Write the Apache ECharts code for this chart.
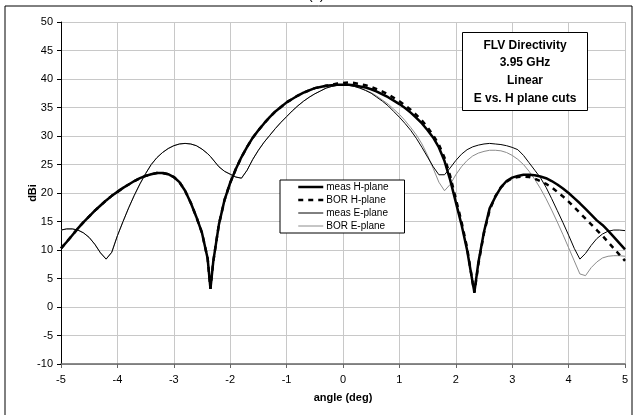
<!DOCTYPE html>
<html>
<head>
<meta charset="utf-8">
<script src="https://cdn.jsdelivr.net/npm/echarts@6/dist/echarts.min.js"></script>
<style>
  html, body { margin: 0; padding: 0; background: #fff; }
  #chart { width: 633px; height: 415px; }
</style>
</head>
<body>
<div id="chart"></div>
<script>
// angle samples (deg), with the two H-plane nulls added
const angles = [
  -5.0, -4.9, -4.8, -4.7, -4.6, -4.5, -4.4, -4.3, -4.2, -4.1,
  -4.0, -3.9, -3.8, -3.7, -3.6, -3.5, -3.4, -3.3, -3.2, -3.1,
  -3.0, -2.9, -2.8, -2.7, -2.6, -2.5, -2.4, -2.35, -2.3, -2.2, -2.1,
  -2.0, -1.9, -1.8, -1.7, -1.6, -1.5, -1.4, -1.3, -1.2, -1.1,
  -1.0, -0.9, -0.8, -0.7, -0.6, -0.5, -0.4, -0.3, -0.2, -0.1,
  0.0, 0.1, 0.2, 0.3, 0.4, 0.5, 0.6, 0.7, 0.8, 0.9,
  1.0, 1.1, 1.2, 1.3, 1.4, 1.5, 1.6, 1.7, 1.8, 1.9,
  2.0, 2.1, 2.2, 2.3, 2.33, 2.4, 2.5, 2.6, 2.7, 2.8, 2.9,
  3.0, 3.1, 3.2, 3.3, 3.4, 3.5, 3.6, 3.7, 3.8, 3.9,
  4.0, 4.1, 4.2, 4.3, 4.4, 4.5, 4.6, 4.7, 4.8, 4.9,
  5.0
];

const measH = [
  10.3, 11.4, 12.6, 13.8, 14.9, 15.9, 16.9, 17.8, 18.7, 19.5,
  20.2, 20.9, 21.5, 22.1, 22.6, 23.0, 23.3, 23.5, 23.5, 23.3,
  22.8, 21.9, 20.4, 18.3, 15.8, 13.0, 8.5, 3.2, 8.0, 14.5, 18.8,
  21.8, 24.2, 26.3, 28.1, 29.7, 31.0, 32.2, 33.3, 34.3, 35.1,
  35.9, 36.5, 37.1, 37.6, 38.0, 38.4, 38.6, 38.8, 38.9, 39.0,
  39.0, 39.0, 38.9, 38.7, 38.5, 38.2, 37.8, 37.3, 36.8, 36.2,
  35.6, 34.9, 34.1, 33.2, 32.2, 31.0, 29.7, 28.0, 25.6, 22.3,
  18.4, 14.5, 10.0, 4.2, 2.6, 7.8, 13.2, 17.3, 19.3, 21.0, 22.1,
  22.7, 23.0, 23.2, 23.2, 23.1, 22.9, 22.6, 22.1, 21.5, 20.8,
  20.0, 19.1, 18.2, 17.2, 16.2, 15.2, 14.4, 13.4, 12.3, 11.2,
  10.1
];

const borH = [
  10.3, 11.4, 12.6, 13.8, 14.9, 15.9, 16.9, 17.8, 18.7, 19.5,
  20.2, 20.9, 21.5, 22.1, 22.6, 23.0, 23.3, 23.5, 23.5, 23.3,
  22.8, 21.9, 20.4, 18.3, 15.8, 13.0, 8.5, 3.2, 8.0, 14.5, 18.8,
  21.8, 24.2, 26.3, 28.1, 29.7, 31.0, 32.2, 33.3, 34.3, 35.1,
  35.9, 36.5, 37.1, 37.6, 38.0, 38.4, 38.6, 38.8, 39.0, 39.2,
  39.3, 39.4, 39.3, 39.1, 38.9, 38.6, 38.2, 37.8, 37.3, 36.7,
  36.1, 35.4, 34.6, 33.7, 32.7, 31.5, 30.1, 28.5, 26.2, 23.0,
  19.0, 15.0, 10.4, 4.2, 2.5, 7.5, 13.0, 17.0, 19.4, 21.0, 22.0,
  22.6, 22.8, 22.9, 22.8, 22.5, 22.1, 21.6, 21.0, 20.2, 19.4,
  18.5, 17.5, 16.5, 15.5, 14.5, 13.5, 12.5, 11.4, 10.3, 9.2,
  8.1
];

const measE = [
  13.5, 13.7, 13.7, 13.5, 13.0, 12.2, 11.0, 9.5, 8.4, 9.6,
  12.5, 15.0, 17.4, 19.6, 21.6, 23.4, 25.0, 26.2, 27.1, 27.8,
  28.3, 28.6, 28.7, 28.6, 28.3, 27.7, 26.9, 26.4, 25.8, 24.6, 23.8,
  23.3, 22.8, 22.6, 24.0, 25.9, 27.5, 28.9, 30.1, 31.3, 32.4,
  33.4, 34.4, 35.3, 36.1, 36.8, 37.4, 37.9, 38.4, 38.7, 38.9,
  39.0, 38.9, 38.7, 38.4, 38.0, 37.5, 36.8, 36.1, 35.3, 34.3,
  33.3, 32.2, 31.0, 29.6, 28.0, 26.3, 24.6, 23.2, 23.2, 24.4,
  25.7, 26.8, 27.6, 28.1, 28.2, 28.4, 28.6, 28.7, 28.6, 28.5, 28.3,
  28.0, 27.6, 26.6, 25.3, 24.0, 22.7, 21.0, 19.0, 16.9, 14.8,
  12.6, 10.3, 8.4, 9.4, 10.8, 12.0, 12.8, 13.3, 13.5, 13.5,
  13.4
];

const borE = [
  13.5, 13.7, 13.7, 13.5, 13.0, 12.2, 11.0, 9.5, 8.4, 9.6,
  12.5, 15.0, 17.4, 19.6, 21.6, 23.4, 25.0, 26.2, 27.1, 27.8,
  28.3, 28.6, 28.7, 28.6, 28.3, 27.7, 26.9, 26.4, 25.8, 24.6, 23.8,
  23.3, 22.8, 22.6, 24.0, 25.9, 27.5, 28.9, 30.1, 31.3, 32.4,
  33.4, 34.4, 35.3, 36.1, 36.8, 37.4, 37.9, 38.4, 38.7, 38.9,
  39.0, 38.9, 38.7, 38.4, 38.0, 37.6, 37.0, 36.3, 35.6, 34.7,
  33.8, 32.7, 31.5, 30.2, 28.6, 26.6, 24.3, 21.9, 20.4, 21.5,
  23.2, 24.6, 25.7, 26.5, 26.7, 27.0, 27.3, 27.5, 27.5, 27.4, 27.1,
  26.6, 25.9, 25.0, 23.8, 22.4, 20.8, 19.0, 17.0, 14.9, 12.7,
  10.4, 8.1, 5.8, 5.5, 6.9, 7.9, 8.6, 8.9, 9.0, 9.0,
  8.9
];

const seriesNames = ["meas H-plane", "BOR H-plane", "meas E-plane", "BOR E-plane"];
const legendWidths = [2.5, 2.5, 1, 1];
const boxLines = ["FLV Directivity", "3.95 GHz", "Linear", "E vs. H plane cuts"];

const font = "Liberation Sans, Arial, sans-serif";
const pairs = (vals) => angles.map((a, i) => [a, vals[i]]);

const myChart = echarts.init(document.getElementById("chart"), null, { renderer: "canvas" });

const option = {
  animation: false,
  backgroundColor: "#fff",
  textStyle: { fontFamily: font },
  grid: { left: 61, right: 8, top: 22, bottom: 51 },
  xAxis: {
    type: "value",
    min: -5,
    max: 5,
    interval: 1,
    name: "angle (deg)",
    nameLocation: "middle",
    nameGap: 28,
    nameMoveOverlap: false,
    nameTextStyle: { fontFamily: font, fontSize: 11, fontWeight: "bold", color: "#000" },
    axisLine: { onZero: false, lineStyle: { color: "#666", width: 1.5 } },
    axisTick: { show: true, length: 4, lineStyle: { color: "#666" } },
    axisLabel: { fontFamily: font, fontSize: 11, color: "#000", margin: 10 },
    splitLine: { show: true, lineStyle: { color: "#c8c8c8", width: 1 } }
  },
  yAxis: {
    type: "value",
    min: -10,
    max: 50,
    interval: 5,
    name: "dBi",
    nameLocation: "middle",
    nameGap: 23,
    nameMoveOverlap: false,
    nameTextStyle: { fontFamily: font, fontSize: 11, fontWeight: "bold", color: "#000" },
    axisLine: { show: true, onZero: false, lineStyle: { color: "#000", width: 1 } },
    axisTick: { show: true, length: 4, lineStyle: { color: "#000" } },
    axisLabel: { fontFamily: font, fontSize: 11, color: "#000", margin: 8 },
    splitLine: { show: true, lineStyle: { color: "#c8c8c8", width: 1 } }
  },
  legend: {
    data: seriesNames.map((name, i) => ({ name, lineStyle: { width: legendWidths[i] } })),
    orient: "vertical",
    left: 280,
    top: 180,
    itemWidth: 25,
    itemHeight: 8,
    itemGap: 3,
    padding: [2, 16, 2, 17],
    backgroundColor: "#fff",
    borderColor: "#000",
    borderWidth: 1,
    borderRadius: 0,
    itemStyle: { opacity: 0 },
    textStyle: { fontFamily: font, fontSize: 10, color: "#000", padding: [0, 0, 0, -2] }
  },
  graphic: [
    {
      type: "rect",
      silent: true,
      z: -1,
      shape: { x: 5, y: 6, width: 627, height: 430 },
      style: { fill: "none", stroke: "#000", lineWidth: 1 }
    },
    {
      type: "text",
      left: 308,
      top: -12,
      style: { text: "(c)", fontFamily: font, fontSize: 14, fill: "#000" }
    },
    {
      type: "group",
      left: 462,
      top: 32,
      z: 100,
      children: [
        {
          type: "rect",
          z: 100,
          shape: { x: 0, y: 0, width: 125, height: 78 },
          style: { fill: "#fff", stroke: "#000", lineWidth: 1 }
        },
        {
          type: "text",
          z: 101,
          x: 62.5,
          y: 4,
          style: {
            text: boxLines.join("\n"),
            fontFamily: font,
            fontSize: 12,
            fontWeight: "bold",
            lineHeight: 17.7,
            align: "center",
            fill: "#000"
          }
        }
      ]
    }
  ],
  series: [
    {
      name: "BOR E-plane",
      type: "line",
      symbol: "none",
      lineStyle: { color: "#8c8c8c", width: 1 },
      itemStyle: { color: "#8c8c8c" },
      data: pairs(borE),
      z: 2
    },
    {
      name: "meas E-plane",
      type: "line",
      symbol: "none",
      lineStyle: { color: "#000", width: 1 },
      itemStyle: { color: "#000" },
      data: pairs(measE),
      z: 3
    },
    {
      name: "meas H-plane",
      type: "line",
      symbol: "none",
      lineStyle: { color: "#000", width: 2.5 },
      itemStyle: { color: "#000" },
      data: pairs(measH),
      z: 4
    },
    {
      name: "BOR H-plane",
      type: "line",
      symbol: "none",
      lineStyle: { color: "#000", width: 2.5, type: [5, 5] },
      itemStyle: { color: "#000" },
      data: pairs(borH),
      z: 5
    }
  ]
};

myChart.setOption(option);
</script>
</body>
</html>
